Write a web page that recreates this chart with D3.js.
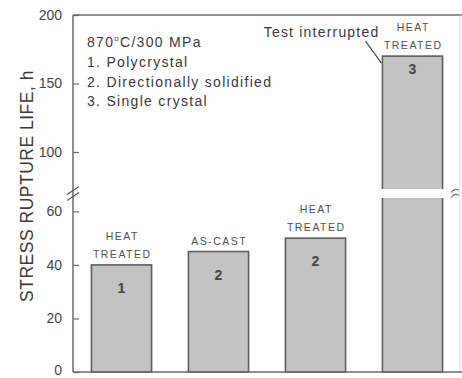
<!DOCTYPE html>
<html>
<head>
<meta charset="utf-8">
<script src="https://cdn.jsdelivr.net/npm/d3@7"></script>
<style>
  html, body { margin: 0; padding: 0; background: #fff; }
  svg { display: block; font-family: "Liberation Sans", Arial, sans-serif; }
</style>
</head>
<body>
<div id="chart"></div>
<script>
// chart values
const barIds = ["1", "2", "2", "3"];
const lifeHours = [40, 45, 50, 170];
const conditions = [["HEAT", "TREATED"], ["AS-CAST"], ["HEAT", "TREATED"], ["HEAT", "TREATED"]];
const lowTicks = [0, 20, 40, 60];
const highTicks = [100, 150, 200];
const legendLines = ["1. Polycrystal", "2. Directionally solidified", "3. Single crystal"];

const width = 462;
const height = 378;
const plotLeft = 73;
const plotRight = 460;
const plotTop = 15;
const plotBottom = 372;
const barFill = "#c3c3c3";
const barStroke = "#5e5e5e";
const axisColor = "#6a6a6a";
const textColor = "#3a3a3a";

// broken axis: two linear scales sharing the same x
const yLow = d3.scaleLinear().domain([0, 65]).range([plotBottom, 198]);
const yHigh = d3.scaleLinear().domain([73, 200]).range([189, plotTop]);
const x = d3.scaleBand().domain(d3.range(lifeHours.length)).range([plotLeft, plotRight + 1])
  .paddingInner(0.38).paddingOuter(0.19);

const svg = d3.select("#chart").append("svg")
  .attr("width", width).attr("height", height);

const bars = lifeHours.map((v, i) => ({ i, id: barIds[i], value: v, cond: conditions[i] }));
const barTop = d => d.value > yLow.domain()[1] ? yHigh(d.value) : yLow(d.value);

// bars
svg.append("g").selectAll("rect").data(bars).enter().append("rect")
  .attr("x", d => x(d.i))
  .attr("y", d => barTop(d))
  .attr("width", x.bandwidth())
  .attr("height", d => yLow(0) - barTop(d))
  .attr("fill", barFill).attr("stroke", barStroke).attr("stroke-width", 1.6);

// white gap across bars that go past the break
svg.append("g").selectAll("rect").data(bars.filter(d => d.value > yHigh.domain()[0])).enter().append("rect")
  .attr("x", d => x(d.i) - 2)
  .attr("y", yHigh.range()[0])
  .attr("width", x.bandwidth() + 4)
  .attr("height", yLow.range()[1] - yHigh.range()[0])
  .attr("fill", "#fff");

// numbers inside bars
svg.append("g").selectAll("text").data(bars).enter().append("text")
  .attr("x", d => x(d.i) + x.bandwidth() / 2)
  .attr("y", d => barTop(d) + (d.value > yLow.domain()[1] ? 18 : 28))
  .attr("text-anchor", "middle")
  .attr("font-size", 14).attr("font-weight", "bold")
  .attr("fill", "#454545")
  .text(d => d.id);

// condition labels above bars
const condG = svg.append("g").selectAll("text").data(bars).enter().append("text")
  .attr("x", d => x(d.i) + x.bandwidth() / 2)
  .attr("y", d => barTop(d) - 7 - (d.cond.length - 1) * 18)
  .attr("text-anchor", "middle")
  .attr("font-size", 10.5)
  .attr("letter-spacing", 1.5)
  .attr("fill", "#505050");
condG.selectAll("tspan").data(d => d.cond.map((t, k) => ({ t, k, cx: x(d.i) + x.bandwidth() / 2 + 0.75 })))
  .enter().append("tspan")
  .attr("x", d => d.cx)
  .attr("dy", d => d.k === 0 ? 0 : 18)
  .text(d => d.t);

// frame lines
svg.append("line").attr("x1", plotLeft).attr("x2", width).attr("y1", plotTop).attr("y2", plotTop)
  .attr("stroke", axisColor).attr("stroke-width", 1.5);
svg.append("line").attr("x1", plotRight).attr("x2", plotRight).attr("y1", plotTop).attr("y2", plotBottom)
  .attr("stroke", "#d8d8d8").attr("stroke-width", 1);

// left axes, ticks inward
const lowAxis = d3.axisLeft(yLow).tickValues(lowTicks).tickSize(-6).tickPadding(11);
const highAxis = d3.axisLeft(yHigh).tickValues(highTicks).tickSize(-6).tickPadding(11);
[lowAxis, highAxis].forEach(ax => {
  const g = svg.append("g").attr("transform", `translate(${plotLeft},0)`).call(ax);
  g.select(".domain").remove();
  g.selectAll("line").attr("stroke", axisColor).attr("stroke-width", 1.2);
  g.selectAll("text").attr("font-size", 14).attr("fill", "#454545")
    .attr("font-family", "'Liberation Sans', Arial, sans-serif")
    .attr("dy", d => d === 0 ? "0.15em" : "0.32em");
});
svg.append("line").attr("x1", plotLeft).attr("x2", plotLeft).attr("y1", plotTop).attr("y2", plotBottom)
  .attr("stroke", axisColor).attr("stroke-width", 1.5);

// bottom axis
svg.append("line").attr("x1", plotLeft).attr("x2", width).attr("y1", plotBottom).attr("y2", plotBottom)
  .attr("stroke", axisColor).attr("stroke-width", 1.5);

// break marks
const breakY = (yHigh.range()[0] + yLow.range()[1]) / 2;
[-3, 3].forEach(dy => {
  svg.append("line").attr("x1", plotLeft - 6).attr("x2", plotLeft + 6)
    .attr("y1", breakY + dy + 4).attr("y2", breakY + dy - 4)
    .attr("stroke", "#555").attr("stroke-width", 1.2);
});
svg.append("path")
  .attr("d", `M${plotRight - 9},${breakY - 1} q4,-5 8,-2 M${plotRight - 9},${breakY + 4} q4,-5 8,-2`)
  .attr("fill", "none").attr("stroke", "#777").attr("stroke-width", 1.2);

// y axis title
svg.append("text")
  .attr("transform", `translate(33,186) rotate(-90)`)
  .attr("text-anchor", "middle")
  .attr("font-size", 17.5).attr("letter-spacing", 0.5)
  .attr("fill", textColor)
  .text("STRESS RUPTURE LIFE, h");

// legend block
const leg = svg.append("g").attr("font-size", 14).attr("letter-spacing", 1.3).attr("fill", textColor);
const head = leg.append("text").attr("x", 87).attr("y", 47);
head.append("tspan").text("870");
head.append("tspan").attr("font-size", 8).attr("dy", -6).text("o");
head.append("tspan").attr("dy", 6).text("C/300 MPa");
leg.selectAll("text.line").data(legendLines).enter().append("text")
  .attr("class", "line")
  .attr("x", 87).attr("y", (d, i) => 67 + i * 19.7)
  .text(d => d);

// test interrupted note
const last = bars[bars.length - 1];
svg.append("text").attr("x", x(last.i) - 3).attr("y", 37)
  .attr("text-anchor", "end").attr("font-size", 14).attr("letter-spacing", 1.2).attr("fill", textColor)
  .text("Test interrupted");
svg.append("line")
  .attr("x1", x(last.i) - 17).attr("y1", 41)
  .attr("x2", x(last.i) - 1).attr("y2", barTop(last) + 7)
  .attr("stroke", "#444").attr("stroke-width", 1.2);
</script>
</body>
</html>
